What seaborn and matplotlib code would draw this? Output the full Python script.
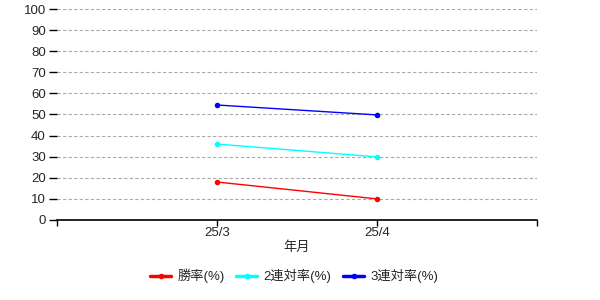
import matplotlib
matplotlib.use("Agg")
import matplotlib.pyplot as plt
import seaborn as sns
import pandas as pd

months = ["25/3", "25/4"]
win_rate = [18.0, 10.0]
top2_rate = [36.0, 29.9]
top3_rate = [54.5, 49.8]
series_names = ["勝率(%)", "2連対率(%)", "3連対率(%)"]
colors = ["#ff0000", "#00ffff", "#0000ff"]

sns.set_theme(style="white")
plt.rcParams['font.family'] = ['Liberation Sans', 'Noto Sans CJK JP', 'DejaVu Sans']

rows = []
for name, vals in zip(series_names, [win_rate, top2_rate, top3_rate]):
    for i, (m, v) in enumerate(zip(months, vals)):
        rows.append({"pos": i + 1, "month": m, "value": v, "series": name})
df = pd.DataFrame(rows)

fig = plt.figure(figsize=(6, 3), dpi=100)
ax = fig.add_axes([0.095, 0.2667, 0.8, 0.7033])

sns.lineplot(data=df, x="pos", y="value", hue="series", palette=colors,
             marker="o", markersize=4, markeredgewidth=0, linewidth=1,
             ax=ax, legend=True)

ax.set_xlim(0, 3)
ax.set_ylim(0, 100)
ax.set_yticks(range(0, 101, 10))
ax.set_xticks([0, 1, 2, 3])
ax.set_xticklabels(["", months[0], months[1], ""])
ax.yaxis.grid(True, color="#aaaaaa", linestyle=(0, (3, 2)), linewidth=0.8)
ax.xaxis.grid(False)
for s in ["top", "right", "left"]:
    ax.spines[s].set_visible(False)
ax.spines["bottom"].set_color("black")
ax.spines["bottom"].set_linewidth(1.2)
ax.tick_params(axis="y", length=6, width=1, color="black", labelsize=9.5, pad=2, left=True)
ax.tick_params(axis="x", length=4, width=1, color="black", labelsize=9.5, pad=1, bottom=True)
ax.set_ylabel("")
ax.set_xlabel("年月", fontsize=9.5, labelpad=2)

handles, labels = ax.get_legend_handles_labels()
ax.legend(handles, labels, loc="center", bbox_to_anchor=(0.494, -0.265),
          ncol=3, frameon=False, fontsize=9.5, handlelength=1.6, columnspacing=0.9,
          handletextpad=0.45)
for line in ax.get_legend().get_lines():
    line.set_linewidth(2.5)

fig.savefig("out.png", dpi=100)
